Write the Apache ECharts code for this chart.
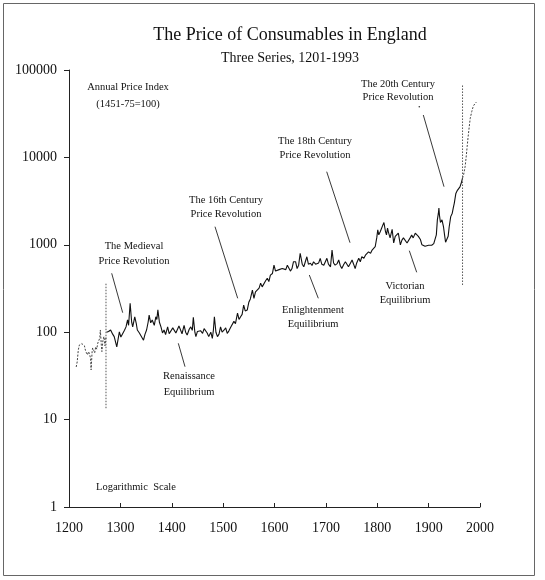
<!DOCTYPE html>
<html><head><meta charset="utf-8">
<script src="https://cdn.jsdelivr.net/npm/echarts@6/dist/echarts.min.js"></script>
<style>html,body{margin:0;padding:0;background:#fff}#c{width:545px;height:580px}</style>
</head><body><div id="c"></div>
<script>
// ---- data ----
const earlyYears  = [1214,1216,1218,1220,1222,1225,1227,1230,1232,1234,1236,1238,1240,1242,1243,1245,1246,1248,1250,1252,1254,1256,1258,1260,1261,1263,1264,1266,1268,1270,1272];
const earlyValues = [40,46,62,71,68,74,78,70,62,58,55,60,56,50,37,60,66,62,58,68,64,75,80,86,106,70,60,80,89,70,88];

const mainYears = [1273,1277,1281,1285,1288,1293,1298,1301,1304,1308,1311,1314,1316,1319,1322,1324,1328,1331,1333,1337,1340,1345,1348,1351,1354,1356,1359,1362,1366,1369,1371,1373,1376,1379,1382,1385,1388,1392,1395,1398,
1402,1405,1408,1411,1414,1417,1420,1424,1427,1430,1434,1437,1440,1442,1445,1447,1450,1453,1456,1460,1463,1466,1469,1472,1476,1479,1481,1483,1486,1489,1492,1495,1498,
1502,1505,1508,1511,1515,1518,1521,1524,1528,1531,1534,1537,1540,1543,1547,1550,1553,1557,1560,1563,1566,1570,1573,1576,1579,1583,1586,1589,1592,1596,1599,
1602,1605,1609,1612,1615,1618,1622,1625,1628,1631,1634,1637,1641,1644,1647,1650,1654,1657,1660,1663,1666,1670,1673,1676,1680,1683,1686,1689,1692,1696,1699,
1702,1705,1709,1712,1715,1718,1722,1725,1728,1731,1735,1738,1741,1744,1748,1751,1754,1757,1760,1764,1767,1770,1774,1777,1780,1783,1787,1790,1793,1796,1799,
1801,1803,1806,1809,1811,1813,1816,1818,1820,1822,1825,1829,1832,1835,1838,1841,1845,1848,1851,1854,1858,1861,1864,1867,1870,1874,1877,1880,1884,1887,1890,1893,1896,
1900,1903,1906,1910,1913,1915,1917,1919,1920,1921,1923,1926,1929,1931,1933,1935,1938,1940,1943,1946,1948,1950,1953,1956,1959,1961,1964,1966];
const mainValues = [100,102,106,95,89,68,101,88,92,105,115,138,120,214,130,115,150,125,106,98,93,81,95,106,130,157,128,138,120,150,140,180,130,115,98,106,94,115,96,100,
112,115,98,93,118,112,96,120,100,93,108,115,105,148,100,89,102,106,104,97,110,115,98,89,100,85,105,150,100,89,95,115,100,
106,112,97,103,115,110,133,125,165,140,150,160,204,175,180,220,240,303,243,290,278,320,364,330,333,390,414,380,450,470,585,
500,490,520,535,535,560,520,585,560,500,535,640,640,535,585,800,600,560,640,730,600,615,580,640,600,585,620,700,600,585,640,
700,600,560,870,620,585,610,670,580,535,600,640,600,560,620,670,600,535,620,700,640,730,700,760,740,830,800,870,900,950,1200,
1480,1300,1420,1350,1690,1800,1420,1300,1550,1380,1200,1500,1050,1250,1200,1360,1000,1130,1200,1250,1050,1050,1200,1290,1200,1360,1300,1250,1150,1000,970,960,950,
990,1000,990,1030,1050,1300,1930,2300,2640,2200,1800,1930,1600,1300,1070,1100,1250,1600,2100,2300,2640,3000,3870,4200,4400,4600,5200,5800];

const lateYears  = [1966,1968,1971,1973,1975,1977,1979,1981,1984,1986,1988,1991,1993];
const lateValues = [5800,6300,7800,10000,13300,17500,22300,28000,33500,37000,39600,41500,43000];

const dividerYears = [1272, 1966];
const dividerLow   = [13.5, 347];
const dividerHigh  = [363, 67000];

const xTicks = [1200,1300,1400,1500,1600,1700,1800,1900,2000];
const yTicks = [1,10,100,1000,10000,100000];

// ---- chart ----
const F = '"Liberation Serif","Times New Roman",serif';
const pairs = (a,b) => a.map((x,i)=>[x,b[i]]);
const chart = echarts.init(document.getElementById('c'), null, {renderer:'canvas'});

const dividerSeries = dividerYears.map((y,i)=>({
  type:'line', data:[[y,dividerLow[i]],[y,dividerHigh[i]]], symbol:'none', silent:true,
  lineStyle:{color:'#555', width:1, type:[1.5,1.5]}
}));

function ann(lines, x, y0, gap){
  return lines.map((t,i)=>({type:'text', x:x, y:y0+i*gap, silent:true,
    style:{text:t, font:'10.5px '+F, fill:'#111', textAlign:'center', textVerticalAlign:'middle'}}));
}
function ptr(x1,y1,x2,y2){
  return {type:'line', silent:true, shape:{x1,y1,x2,y2}, style:{stroke:'#222', lineWidth:0.9}};
}

const graphics = [
  {type:'rect', shape:{x:3.5,y:3.5,width:531,height:572}, style:{fill:'none', stroke:'#666', lineWidth:1}, silent:true},
  {type:'text', x:290, y:35, style:{text:'The Price of Consumables in England', font:'18px '+F, fill:'#111', textAlign:'center', textVerticalAlign:'middle'}},
  {type:'text', x:290, y:58, style:{text:'Three Series, 1201-1993', font:'14px '+F, fill:'#111', textAlign:'center', textVerticalAlign:'middle'}},
  ...ann(['Annual Price Index','(1451-75=100)'], 128, 87, 17),
  ...ann(['The 20th Century','Price Revolution'], 398, 84, 13),
  ...ann(['The 18th Century','Price Revolution'], 315, 141, 14),
  ...ann(['The 16th Century','Price Revolution'], 226, 200, 14),
  ...ann(['The Medieval','Price Revolution'], 134, 246, 15),
  ...ann(['Renaissance','Equilibrium'], 189, 376, 16),
  ...ann(['Enlightenment','Equilibrium'], 313, 310, 14),
  ...ann(['Victorian','Equilibrium'], 405, 286, 14),
  {type:'text', x:96, y:487, style:{text:'Logarithmic  Scale', font:'10.5px '+F, fill:'#111', textAlign:'left', textVerticalAlign:'middle'}},
  ptr(111.7,273.3,122.7,312.7),
  ptr(178.3,343.3,185,366.7),
  ptr(215,226.7,237.7,298.3),
  ptr(326.7,171.7,350,242.7),
  ptr(309.3,275,318.3,298.3),
  ptr(409.3,250.7,416.7,272.3),
  ptr(423.3,115,444,186.7),
  {type:'circle', shape:{cx:419.3, cy:106.7, r:0.8}, style:{fill:'#333'}, silent:true}
];

chart.setOption({
  animation:false,
  backgroundColor:'#fff',
  grid:{left:69, right:65, top:70, bottom:73, containLabel:false},
  xAxis:{type:'value', min:xTicks[0], max:xTicks[xTicks.length-1], interval:100,
    axisLine:{lineStyle:{color:'#222', width:1}},
    axisTick:{inside:true, length:4, lineStyle:{color:'#222'}},
    splitLine:{show:false},
    axisLabel:{fontFamily:F, fontSize:14, color:'#111', margin:14, formatter:v=>String(v)}},
  yAxis:{type:'log', logBase:10, min:yTicks[0], max:yTicks[yTicks.length-1], splitNumber:5,
    axisLine:{show:true, lineStyle:{color:'#222', width:1}},
    axisTick:{show:true, inside:false, length:5, lineStyle:{color:'#222'}},
    minorTick:{show:false}, splitLine:{show:false},
    axisLabel:{fontFamily:F, fontSize:14, color:'#111', margin:12, formatter:v=>String(Math.round(v))}},
  series:[
    {type:'line', data:pairs(earlyYears,earlyValues), symbol:'none', lineStyle:{color:'#444', width:1, type:[2,1.5]}},
    {type:'line', data:pairs(mainYears,mainValues), symbol:'none', lineStyle:{color:'#111', width:1.1}},
    {type:'line', data:pairs(lateYears,lateValues), symbol:'none', smooth:false, lineStyle:{color:'#444', width:1, type:[2,1.5]}},
    ...dividerSeries
  ],
  graphic:graphics
});
</script></body></html>
